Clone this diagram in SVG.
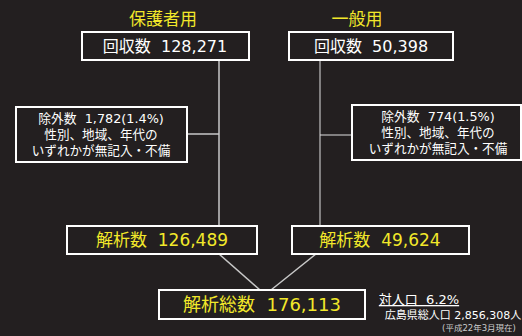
<svg xmlns="http://www.w3.org/2000/svg" width="522" height="336" viewBox="0 0 522 336" xml:space="preserve">
<style>
.box{fill:#231f20;stroke:#ffffff;stroke-width:2}
.t{font-family:"DejaVu Sans","Noto Sans CJK JP",sans-serif;text-anchor:middle;white-space:pre}
.w{fill:#ffffff}
.y{fill:#f2e82a}
.ln{stroke:#c8c8c8;stroke-width:1.5;fill:none}
.ln2{stroke:#e0e0e0;stroke-width:1;fill:none}
</style>
<rect width="522" height="336" fill="#231f20"/>
<text class="t y" x="163" y="25" font-size="17">保護者用</text>
<text class="t y" x="357" y="25" font-size="17">一般用</text>
<g id="connectors">
<line class="ln" x1="219" y1="60" x2="219" y2="226"/>
<line class="ln" x1="187" y1="134" x2="219" y2="134"/>
<line class="ln2" x1="320" y1="60" x2="320" y2="226"/>
<line class="ln2" x1="320" y1="135" x2="352" y2="135"/>
<line class="ln" x1="219" y1="254" x2="260" y2="290"/>
<line class="ln" x1="316" y1="254" x2="271" y2="290"/>
</g>
<g id="collect1">
<rect class="box" x="82" y="32" width="167" height="28"/>
<text class="t w" x="165" y="52" font-size="16">回収数  128,271</text>
</g>
<g id="collect2">
<rect class="box" x="289" y="32" width="164" height="28"/>
<text class="t w" x="371" y="52" font-size="16">回収数  50,398</text>
</g>
<g id="excl1">
<rect class="box" x="16" y="107" width="171" height="55" stroke-width="1.5"/>
<text class="t w" x="101" y="123" font-size="12.8">除外数  1,782(1.4%)</text>
<text class="t w" x="101" y="139" font-size="12.6">性別、地域、年代の</text>
<text class="t w" x="101" y="155" font-size="12.6">いずれかが無記入・不備</text>
</g>
<g id="excl2">
<rect class="box" x="352" y="105" width="169" height="55" stroke-width="1.5"/>
<text class="t w" x="438" y="121" font-size="12.8">除外数  774(1.5%)</text>
<text class="t w" x="438" y="137" font-size="12.6">性別、地域、年代の</text>
<text class="t w" x="438" y="153" font-size="12.6">いずれかが無記入・不備</text>
</g>
<g id="anal1">
<rect class="box" x="67" y="226" width="190" height="28"/>
<text class="t y" x="162" y="246" font-size="17">解析数  126,489</text>
</g>
<g id="anal2">
<rect class="box" x="292" y="226" width="177" height="28"/>
<text class="t y" x="380" y="246" font-size="17">解析数  49,624</text>
</g>
<g id="total">
<rect class="box" x="159" y="290" width="206" height="29"/>
<text class="t y" x="262" y="311" font-size="18">解析総数  176,113</text>
</g>
<g id="note">
<text class="t w" x="419" y="304" font-size="13" text-decoration="underline">対人口  6.2%</text>
<text class="t w" x="453" y="319" font-size="11">広島県総人口 2,856,308人</text>
<text class="t" x="479" y="331" font-size="8.5" fill="#cccccc">(平成22年3月現在)</text>
</g>
</svg>
